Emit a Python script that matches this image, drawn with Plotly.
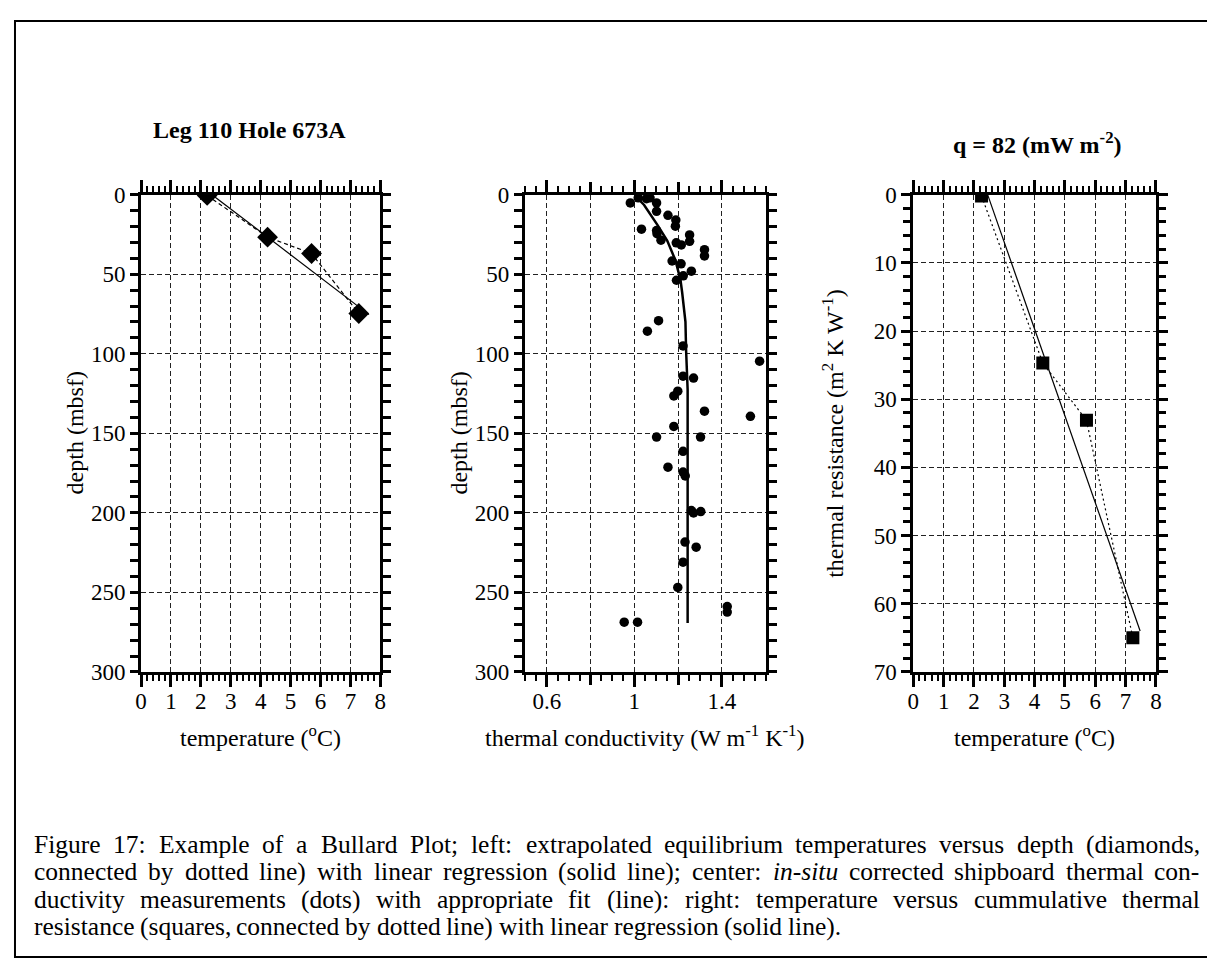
import plotly.graph_objects as go

W, H = 1215, 964
SERIF = "Liberation Serif, Times New Roman, serif"

# ---------------- data ----------------
# left: equilibrium temperature vs depth
temp_left = [2.21, 4.23, 5.70, 7.28]
depth_left = [0.5, 26.7, 37.0, 74.7]
reg_left_temp = [2.37, 7.62]
reg_left_depth = [0.0, 75.4]

# center: thermal conductivity vs depth
cond = [0.982, 1.018, 1.056, 1.072, 1.102, 1.102, 1.154, 1.190, 1.188, 1.033,
        1.102, 1.104, 1.253, 1.122, 1.253, 1.192, 1.215, 1.321, 1.321, 1.173,
        1.214, 1.261, 1.224, 1.193, 1.111, 1.060, 1.223, 1.573, 1.223, 1.271,
        1.199, 1.181, 1.321, 1.531, 1.181, 1.102, 1.303, 1.223, 1.154, 1.223,
        1.233, 1.261, 1.271, 1.304, 1.232, 1.283, 1.223, 1.199, 1.425, 1.425,
        0.954, 1.015]
cond_depth = [5.2, 2.0, 2.5, 2.0, 5.2, 10.5, 13.0, 16.0, 19.8, 21.7,
              22.6, 24.5, 25.3, 28.6, 29.3, 30.3, 31.6, 34.6, 38.5, 41.7,
              43.5, 48.1, 51.0, 53.8, 79.2, 85.8, 95.1, 104.7, 114.1, 115.3,
              123.5, 126.5, 136.1, 139.3, 145.7, 152.4, 152.4, 161.3, 171.3, 174.4,
              176.8, 198.6, 200.1, 199.2, 218.4, 221.6, 231.0, 246.9, 258.9, 262.4,
              268.7, 268.7]
fit_cond = [1.003, 1.045, 1.105, 1.151, 1.188, 1.211, 1.219, 1.234, 1.237, 1.244, 1.244]
fit_depth = [0.4, 6.5, 18.8, 29.0, 41.2, 53.4, 61.5, 80.0, 98.0, 122.6, 269.3]

# right: temperature vs cumulative thermal resistance
temp_right = [2.25, 4.27, 5.71, 7.24]
resist = [0.2, 24.7, 33.1, 65.0]
reg_right_temp = [2.45, 7.48]
reg_right_res = [0.0, 64.0]

left_title = "<b>Leg 110 Hole 673A</b>"
right_title = "<b>q = 82 (mW m<sup>-2</sup>)</b>"
cond_label_ticks = [0.6, 1.0, 1.4]
cond_label_text = ["0.6", "1", "1.4"]
cond_grid_ticks = [0.8, 1.2]

x_titles = ["temperature (<sup>o</sup>C)",
            "thermal conductivity (W m<sup>-1</sup> K<sup>-1</sup>)",
            "temperature (<sup>o</sup>C)"]
y_titles = ["depth (mbsf)", "depth (mbsf)",
            "thermal resistance (m<sup>2</sup> K W<sup>-1</sup>)"]

caption_lines = [
    "Figure 17: Example of a Bullard Plot; left: extrapolated equilibrium temperatures versus depth (diamonds,",
    "connected by dotted line) with linear regression (solid line); center: <i>in-situ</i> corrected shipboard thermal con-",
    "ductivity measurements (dots) with appropriate fit (line): right: temperature versus cummulative thermal",
    "resistance (squares, connected by dotted line) with linear regression (solid line).",
]

# ---------------- helpers ----------------
def px(x):
    return x / W

def py(y):
    return 1 - y / H

TIMES_W = {
    'a': 444, 'b': 500, 'c': 444, 'd': 500, 'e': 444, 'f': 333, 'g': 500, 'h': 500,
    'i': 278, 'j': 278, 'k': 500, 'l': 278, 'm': 778, 'n': 500, 'o': 500, 'p': 500,
    'q': 500, 'r': 333, 's': 389, 't': 278, 'u': 500, 'v': 500, 'w': 722, 'x': 500,
    'y': 500, 'z': 444, 'F': 556, 'E': 611, 'B': 667, 'P': 556, ':': 278, ';': 278,
    ',': 250, '.': 250, '(': 333, ')': 333, '-': 333, ' ': 250,
}

def word_width(word, size):
    plain = word.replace("<i>", "").replace("</i>", "")
    return sum(TIMES_W.get(ch, 500) for ch in plain) * size / 1000.0

fig = go.Figure()

# left panel
fig.add_trace(go.Scatter(x=temp_left, y=depth_left, mode="lines",
                         line=dict(color="black", width=1.2, dash="4px,3px"),
                         xaxis="x", yaxis="y", showlegend=False))
fig.add_trace(go.Scatter(x=reg_left_temp, y=reg_left_depth, mode="lines",
                         line=dict(color="black", width=1.2),
                         xaxis="x", yaxis="y", showlegend=False))
fig.add_trace(go.Scatter(x=temp_left, y=depth_left, mode="markers",
                         marker=dict(symbol="diamond", size=16, color="black"),
                         xaxis="x", yaxis="y", showlegend=False))

# center panel
fig.add_trace(go.Scatter(x=fit_cond, y=fit_depth, mode="lines",
                         line=dict(color="black", width=2.5),
                         xaxis="x2", yaxis="y2", showlegend=False))
fig.add_trace(go.Scatter(x=cond, y=cond_depth, mode="markers",
                         marker=dict(symbol="circle", size=9.5, color="black"),
                         xaxis="x2", yaxis="y2", showlegend=False))
# invisible trace so the overlay axis (grid at 0.8 / 1.2) is drawn
fig.add_trace(go.Scatter(x=cond_grid_ticks, y=[0, 0], mode="markers",
                         marker=dict(size=1, opacity=0), hoverinfo="skip",
                         xaxis="x4", yaxis="y2", showlegend=False))

# right panel
fig.add_trace(go.Scatter(x=temp_right, y=resist, mode="lines",
                         line=dict(color="black", width=1.2, dash="2px,3px"),
                         xaxis="x3", yaxis="y3", showlegend=False))
fig.add_trace(go.Scatter(x=reg_right_temp, y=reg_right_res, mode="lines",
                         line=dict(color="black", width=1.2),
                         xaxis="x3", yaxis="y3", showlegend=False))
fig.add_trace(go.Scatter(x=temp_right, y=resist, mode="markers",
                         marker=dict(symbol="square", size=13, color="black"),
                         xaxis="x3", yaxis="y3", showlegend=False))

FS = 24
TFS = 23
common = dict(showline=True, linewidth=3, linecolor="black", mirror="allticks",
              ticks="outside", tickwidth=2.5, tickcolor="black",
              showgrid=True, gridcolor="#222", gridwidth=1, griddash="5px,3px",
              zeroline=False, fixedrange=True,
              tickfont=dict(family=SERIF, size=TFS, color="black"))

ydom = [py(669.3), py(179.3)]
dom_x1 = [px(128.3), px(370)]
dom_x2 = [px(516), px(759)]
dom_x3 = [px(908.3), px(1153.3)]

def minor(dt, ln, wd, t0=0):
    return dict(tick0=t0, dtick=dt, ticklen=ln, tickwidth=wd, ticks="outside",
                showgrid=False, tickcolor="black")

XSTAND = -6

fig.update_layout(
    width=W, height=H,
    margin=dict(l=0, r=0, t=0, b=0),
    paper_bgcolor="white", plot_bgcolor="white",
    xaxis=dict(common, domain=dom_x1, anchor="y", range=[0, 8],
               tick0=0, dtick=1, ticklen=12, ticklabelstandoff=XSTAND, minor=minor(0.2, 6, 2)),
    yaxis=dict(common, domain=ydom, anchor="x", range=[300, 0],
               tick0=0, dtick=50, ticklen=8, minor=minor(10, 8, 2.5)),
    xaxis2=dict(common, domain=dom_x2, anchor="y2", range=[0.5, 1.6],
                tickmode="array", tickvals=cond_label_ticks, ticktext=cond_label_text,
                ticklen=12, ticklabelstandoff=XSTAND, minor=minor(0.05, 6, 2, 0.5)),
    xaxis4=dict(domain=dom_x2, anchor="y2", overlaying="x2", range=[0.5, 1.6],
                tickmode="array", tickvals=cond_grid_ticks, showticklabels=False,
                ticks="outside", ticklen=12, tickwidth=2.5, tickcolor="black",
                mirror="allticks", showline=False, showgrid=True, gridcolor="#222",
                gridwidth=1, griddash="5px,3px", zeroline=False, fixedrange=True),
    yaxis2=dict(common, domain=ydom, anchor="x2", range=[300, 0],
                tick0=0, dtick=50, ticklen=8, minor=minor(10, 8, 2.5)),
    xaxis3=dict(common, domain=dom_x3, anchor="y3", range=[0, 8],
                tick0=0, dtick=1, ticklen=12, ticklabelstandoff=XSTAND, minor=minor(0.2, 6, 2)),
    yaxis3=dict(common, domain=ydom, anchor="x3", range=[70, 0],
                tick0=0, dtick=10, ticklen=9, minor=minor(2, 7, 2.5)),
)

def note(text, x, y, size=FS, xanchor="center", angle=0):
    return dict(text=text, x=px(x), y=py(y), xref="paper", yref="paper",
                xanchor=xanchor, yanchor="middle", showarrow=False,
                textangle=angle, borderpad=0, borderwidth=0,
                font=dict(family=SERIF, size=size, color="black"))

annotations = [
    note(left_title, 140, 113, xanchor="left"),
    note(right_title, 1034, 126),
]
# axis titles
for t, xc in zip(x_titles, [249, 637, 1031]):
    annotations.append(note(t, xc, 735))
for t, xc in zip(y_titles, [62, 449, 827]):
    annotations.append(note(t, xc, 424, angle=-90))

# caption: justified lines built word by word
CF = 25.5
x_left, x_right = 20.0, 1197.0
line_y = [846, 874.3, 902.6, 930.9]
for i, line in enumerate(caption_lines):
    words = line.split(" ")
    widths = [word_width(w, CF) for w in words]
    if i < len(caption_lines) - 1:
        gap = (x_right - x_left - sum(widths)) / (len(words) - 1)
    else:
        gap = 250 * CF / 1000.0
    xpos = x_left
    for w, wd in zip(words, widths):
        annotations.append(note(w, xpos, line_y[i], size=CF, xanchor="left"))
        xpos += wd + gap

fig.update_layout(annotations=annotations)

# outer frame
fig.add_shape(type="rect", xref="paper", yref="paper",
              x0=px(1), x1=px(W - 2), y0=py(H - 2), y1=py(1),
              line=dict(color="black", width=2), fillcolor="rgba(0,0,0,0)", layer="below")

fig.write_html("out.html")
